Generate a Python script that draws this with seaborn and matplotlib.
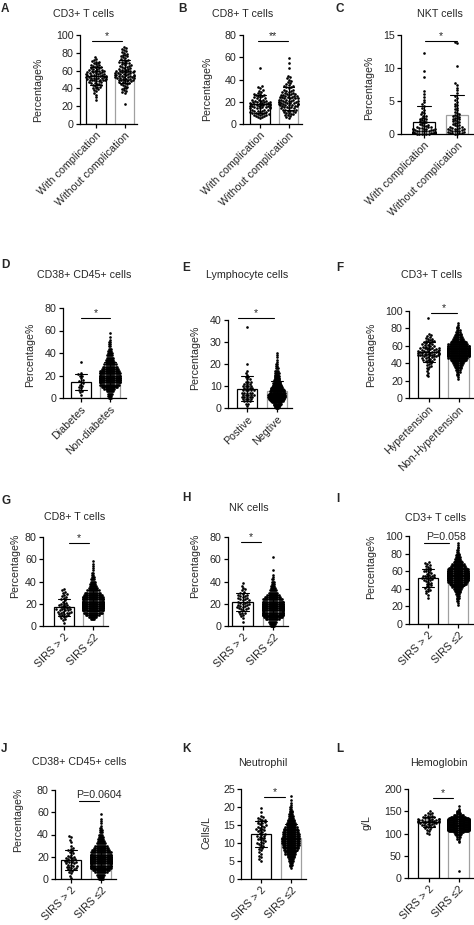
import warnings
warnings.filterwarnings('ignore')
import numpy as np
import pandas as pd
import matplotlib
matplotlib.use('Agg')
import matplotlib.pyplot as plt
from matplotlib.lines import Line2D
import seaborn as sns

sns.set_theme(style='ticks')
plt.rcParams['font.family'] = ['Liberation Sans', 'DejaVu Sans']

# ---------------- data ----------------
cats_comp = ['With complication', 'Without complication']
cats_diab = ['Diabetes', 'Non-diabetes']
cats_pos = ['Postive', 'Negtive']
cats_hyp = ['Hypertension', 'Non-Hypertension']
cats_sirs = ['SIRS > 2', 'SIRS \u22642']

A1 = [75,73,72,71,70,70,69,68,67,66,66,65,65,64,64,63,63,62,62,61,61,60,60,60,59,59,58,58,58,57,57,57,56,56,56,55,55,55,55,54,54,54,53,53,53,53,52,52,52,52,51,51,51,50,50,50,49,49,49,48,48,47,47,46,46,45,45,44,44,43,42,42,41,40,39,38,37,35,33,30,27]
A2 = [87,85,84,83,82,81,80,79,78,77,76,76,75,74,73,72,72,71,70,70,69,68,68,67,66,66,65,65,64,64,63,63,62,62,61,61,60,60,60,59,59,59,58,58,58,57,57,57,56,56,56,55,55,55,55,54,54,54,54,53,53,53,53,52,52,52,51,51,51,50,50,50,49,49,48,48,47,47,46,46,45,45,44,43,42,41,40,39,38,37,36,35,22]

B1 = [50,34,33,32,31,30,29,28,27,27,26,26,25,25,24,24,23,23,22,22,22,21,21,21,20,20,20,20,19,19,19,19,18,18,18,18,17,17,17,17,16,16,16,16,15,15,15,15,14,14,14,14,13,13,13,12,12,12,11,11,11,10,10,10,9,9,9,8,8,8,7,7,6,6,5]
B2 = [59,55,50,43,42,41,40,39,38,37,36,35,34,34,33,33,32,31,31,30,30,29,29,28,28,27,27,27,26,26,26,25,25,25,24,24,24,24,23,23,23,23,22,22,22,22,21,21,21,21,20,20,20,20,19,19,19,19,18,18,18,18,17,17,17,17,16,16,16,15,15,15,14,14,14,13,13,13,12,12,12,11,11,10,10,9,9,8,8,7,6,5]

C1 = [12.2,9.5,8.6,6.5,6.0,5.6,5.2,4.8,4.5,4.2,3.9,3.6,3.4,3.2,3.0,2.8,2.7,2.5,2.4,2.3,2.2,2.1,2.0,1.9,1.8,1.7,1.6,1.5,1.4,1.3,1.2,1.2,1.1,1.0,1.0,0.9,0.9,0.8,0.8,0.7,0.7,0.7,0.6,0.6,0.6,0.5,0.5,0.5,0.4,0.4,0.4,0.3,0.3,0.3,0.3,0.2,0.2,0.2,0.2,0.1,0.1,0.1,0.1,0.1,0.0,0.0,0.0,0.0,0.0,0.0]
C2 = [14.0,13.8,10.3,7.7,7.4,7.0,6.6,6.2,5.8,5.5,5.2,4.9,4.6,4.4,4.2,4.0,3.8,3.6,3.4,3.2,3.0,2.9,2.8,2.7,2.6,2.5,2.4,2.3,2.2,2.1,2.0,1.9,1.8,1.7,1.6,1.5,1.4,1.3,1.2,1.1,1.0,0.9,0.9,0.8,0.8,0.7,0.7,0.6,0.6,0.5,0.5,0.4,0.4,0.3,0.3,0.2,0.2,0.1,0.1,0.0,0.0]

D1 = [32,22,21,20,20,18,16,15,14,13,12,11,10,9,7,6,5,3]
D2_levels = [0,2,4,6,8,10,12,14,16,18,20,22,24,26,28,30,32,34,36,38,40,42,44,46,48,50,52,54,58]
D2_counts = [3,4,5,7,10,14,18,22,24,24,22,20,18,15,13,11,9,8,7,6,5,4,3,2,2,2,1,1,1]

E1 = [37,20,17,16,15,14,14,13,13,12,12,12,11,11,11,10,10,10,10,9,9,9,9,8,8,8,8,8,7,7,7,7,7,6,6,6,6,6,5,5,5,5,5,4,4,4,4,3,3,3,2,2,1]
E2_levels = [0,0.5,1,1.5,2,2.5,3,3.5,4,4.5,5,5.5,6,6.5,7,7.5,8,8.5,9,9.5,10,10.5,11,11.5,12,12.5,13,13.5,14,14.5,15,16,17,18,19,20,21,22,23,24,25]
E2_counts = [3,4,5,6,8,9,11,13,14,15,16,16,16,15,14,14,12,12,10,10,9,8,7,7,6,5,5,4,4,4,4,5,4,3,2,2,1,1,1,1,1]

F1 = [92,73,72,71,70,69,68,68,67,66,66,65,65,64,63,63,62,62,61,61,60,60,59,59,58,58,57,57,57,56,56,56,55,55,55,54,54,54,54,53,53,53,53,52,52,52,52,51,51,51,51,50,50,50,50,49,49,49,48,48,48,47,47,46,46,45,45,44,44,43,43,42,41,40,39,38,37,36,35,33,31,29,27,25]
F2_levels = [22,24,26,28,30,32,34,36,38,40,42,44,46,48,50,52,54,56,58,60,62,64,66,68,70,72,74,76,78,80,82,84,86]
F2_counts = [1,1,2,2,3,4,5,6,8,10,12,15,18,22,26,30,30,28,25,21,18,15,12,10,8,6,5,4,3,2,2,1,1]

G1 = [33,32,31,30,29,28,27,26,25,24,23,22,21,20,20,19,19,18,18,17,17,16,16,15,15,15,14,14,14,13,13,13,12,12,12,11,11,10,10,9,9,8,7,6,5,3]
G2_levels = [6,8,10,12,14,16,18,20,22,24,26,28,30,32,34,36,38,40,42,44,46,48,50,52,54,56,58]
G2_counts = [4,8,12,17,22,26,28,28,26,23,20,17,14,11,9,7,6,5,4,3,2,2,1,1,1,1,1]

H1 = [39,36,34,33,32,31,30,29,28,28,27,27,26,25,25,24,24,23,23,22,22,21,21,20,20,19,19,18,18,17,17,16,16,15,15,14,13,12,12,11,10,9,7,4]
H2_levels = [0,2,4,6,8,10,12,14,16,18,20,22,24,26,28,30,32,34,36,38,40,42,44,46,50,62]
H2_counts = [4,6,8,12,17,22,27,29,29,27,24,21,18,14,11,9,7,5,4,3,3,2,1,1,1,1]

I1 = [70,69,68,67,66,65,64,63,62,61,60,60,59,58,57,56,56,55,55,54,54,53,53,52,52,51,51,50,50,49,48,47,46,45,44,43,42,41,40,39,38,37,35,33,30]
I2_levels = [22,24,26,28,30,32,34,36,38,40,42,44,46,48,50,52,54,56,58,60,62,64,66,68,70,72,74,76,78,80,82,84,86,88,90,92]
I2_counts = [1,1,2,2,3,3,4,5,6,8,10,12,15,18,22,25,27,27,25,22,19,16,13,11,9,7,6,5,4,3,2,2,1,1,1,1]

J1 = [39,38,35,33,30,28,27,26,25,24,23,22,21,20,20,19,19,18,18,17,17,16,16,15,15,15,14,14,13,13,12,12,11,11,10,10,9,9,8,7,6,5,3,1]
J2_levels = [0,2,4,6,8,10,12,14,16,18,20,22,24,26,28,30,32,34,36,38,40,42,44,46,48,50,52,54,58]
J2_counts = [5,6,8,11,15,20,24,27,28,27,25,22,19,16,13,11,9,7,6,5,4,3,3,2,1,1,1,1,1]

K1 = [19.7,18.5,17.5,17.2,17.0,16.8,16.5,16.5,16.2,16.0,15.8,15.5,15.5,15.3,15.0,14.8,14.5,14.5,14.3,14.0,13.8,13.5,13.5,13.3,13.0,12.8,12.5,12.3,12.0,12.0,11.8,11.5,11.3,11.0,11.0,10.8,10.5,10.3,10.0,10.0,9.8,9.5,9.2,9.0,8.7,8.3,8.0,7.5,7.0,6.5,6.0,5.5,5.0]
K2_levels = [3.0,3.5,4.0,4.5,5.0,5.5,6.0,6.5,7.0,7.5,8.0,8.5,9.0,9.5,10.0,10.5,11.0,11.5,12.0,12.5,13.0,13.5,14.0,14.5,15.0,15.5,16.0,16.5,17.0,17.5,18.0,18.5,19.0,19.5,20.0,20.5,21.0,22.0,23.0]
K2_counts = [1,2,3,3,5,5,7,7,10,10,12,13,14,15,16,16,16,16,15,15,14,13,12,11,9,9,7,7,5,5,4,3,3,2,2,1,1,1,1]

L1 = [150,147,145,143,141,140,139,138,137,136,135,134,133,133,132,132,131,131,130,130,129,129,128,128,127,127,126,126,125,125,124,124,123,123,122,121,120,119,118,117,116,115,114,112,110,108,105,102,98]
L2_levels = [15,80,84,88,92,96,100,104,106,108,110,112,114,116,118,120,122,124,126,128,130,132,134,136,138,140,142,144,146,148,150,152,156,162]
L2_counts = [1,1,1,2,3,4,6,9,10,13,16,19,22,24,25,25,24,22,20,17,15,12,10,8,6,5,4,3,2,2,2,1,1,1]

# ---------------- layout (pixels) ----------------
W, H = 474, 925
fig = plt.figure(figsize=(W / 100, H / 100), dpi=100)
fig.patch.set_facecolor('white')

FS = 7.7
DOT = 1.9

panels = [
    dict(L='A', T='CD3+ T cells', Y='Percentage%', cats=cats_comp, g1=A1, g2=A2, ymax=100, ystep=20,
         box=(80, 96, 124.5, 137, 35, 124), tpos=(84, 14), lpos=(1, 8.5), ypos=(38, 90),
         sig=('*', 92, 122, 41)),
    dict(L='B', T='CD8+ T cells', Y='Percentage%', cats=cats_comp, g1=B1, g2=B2, ymax=80, ystep=20,
         box=(243, 260, 288.5, 302, 35, 124), tpos=(243, 14), lpos=(178, 9), ypos=(207, 89),
         sig=('**', 258, 288, 41)),
    dict(L='C', T='NKT cells', Y='Percentage%', cats=cats_comp, g1=C1, g2=C2, ymax=15, ystep=5,
         box=(401, 424, 457, 474, 35, 134), tpos=(440, 14), lpos=(336, 8.5), ypos=(369, 88),
         sig=('*', 425, 457, 41)),
    dict(L='D', T='CD38+ CD45+ cells', Y='Percentage%', cats=cats_diab, g1=D1,
         g2=np.repeat(D2_levels, D2_counts), ymax=80, ystep=20,
         box=(63, 81, 110, 126, 308, 398), tpos=(84, 275), lpos=(1, 265), ypos=(30, 355),
         sig=('*', 81, 110, 318)),
    dict(L='E', T='Lymphocyte cells', Y='Percentage%', cats=cats_pos, g1=E1,
         g2=np.repeat(E2_levels, E2_counts), ymax=40, ystep=10,
         box=(228, 247, 277, 292, 320, 408), tpos=(247, 275), lpos=(182, 268), ypos=(195, 358),
         sig=('*', 238, 274, 318)),
    dict(L='F', T='CD3+ T cells', Y='Percentage%', cats=cats_hyp, g1=F1,
         g2=np.repeat(F2_levels, F2_counts), ymax=100, ystep=20,
         box=(409, 428.5, 458.5, 474, 311, 398), tpos=(432, 275), lpos=(336, 268), ypos=(371, 355),
         sig=('*', 431, 457, 313)),
    dict(L='G', T='CD8+ T cells', Y='Percentage%', cats=cats_sirs, g1=G1,
         g2=np.repeat(G2_levels, G2_counts), ymax=80, ystep=20,
         box=(43, 64, 93, 108, 537, 626), tpos=(75, 517), lpos=(1, 501), ypos=(15, 566),
         sig=('*', 69, 89, 543)),
    dict(L='H', T='NK cells', Y='Percentage%', cats=cats_sirs, g1=H1,
         g2=np.repeat(H2_levels, H2_counts), ymax=80, ystep=20,
         box=(228, 242.5, 273, 288, 537, 626), tpos=(249, 508), lpos=(182, 498), ypos=(195, 566),
         sig=('*', 241, 261, 542)),
    dict(L='I', T='CD3+ T cells', Y='Percentage%', cats=cats_sirs, g1=I1,
         g2=np.repeat(I2_levels, I2_counts), ymax=100, ystep=20,
         box=(409, 428, 458, 474, 536, 624), tpos=(436, 518), lpos=(336, 499), ypos=(371, 567),
         sig=('P=0.058', 424, 449, 543)),
    dict(L='J', T='CD38+ CD45+ cells', Y='Percentage%', cats=cats_sirs, g1=J1,
         g2=np.repeat(J2_levels, J2_counts), ymax=80, ystep=20,
         box=(55, 71, 101, 116, 790, 879), tpos=(79, 762), lpos=(1, 749), ypos=(18, 820),
         sig=('P=0.0604', 79, 99, 801)),
    dict(L='K', T='Neutrophil', Y='Cells/L', cats=cats_sirs, g1=K1,
         g2=np.repeat(K2_levels, K2_counts), ymax=25, ystep=5,
         box=(241, 261, 291, 306, 789, 879), tpos=(263, 763), lpos=(182, 749), ypos=(207, 833),
         sig=('*', 264, 285, 797)),
    dict(L='L', T='Hemoglobin', Y='g/L', cats=cats_sirs, g1=L1,
         g2=np.repeat(L2_levels, L2_counts), ymax=200, ystep=50,
         box=(408, 428.5, 458.5, 474, 789, 878), tpos=(439, 763), lpos=(336, 749), ypos=(367, 823),
         sig=('*', 433, 453, 798)),
]


def fx(x):
    return x / W


def fy(y):
    return 1 - y / H


swarms = []  # (collection, center)

for p in panels:
    left, c0, c1, right, top, bottom = p['box']
    s = c1 - c0
    ax = fig.add_axes([fx(left), fy(bottom), (right - left) / W, (bottom - top) / H])
    cats = p['cats']
    g1 = np.asarray(p['g1'], dtype=float)
    g2 = np.asarray(p['g2'], dtype=float)
    df = pd.DataFrame({'group': [cats[0]] * len(g1) + [cats[1]] * len(g2),
                       'value': np.concatenate([g1, g2])})
    sns.barplot(data=df, x='group', y='value', order=cats, estimator='mean', errorbar='sd',
                width=0.68, color='white', edgecolor='black', linewidth=0.9, capsize=0.4,
                err_kws={'color': 'black', 'linewidth': 0.8}, ax=ax)
    for i, patch in enumerate(ax.patches):
        patch.set_facecolor('white')
        patch.set_edgecolor('black' if i == 0 else '#a0a0a0')
        patch.set_zorder(1)
    # swarm each group; dense groups are packed with a smaller footprint (GraphPad overlaps dots)
    for gi, cat in enumerate(cats):
        sub = df[df['group'] == cat]
        n_before = len(ax.collections)
        pack = DOT if len(sub) < 120 else 0.9
        sns.swarmplot(data=sub, x='group', y='value', order=cats, color='black', size=pack,
                      linewidth=0, ax=ax, warn_thresh=1)
        for c in ax.collections[n_before:]:
            swarms.append((c, gi))
    for c in ax.collections:
        c.set_zorder(3)
        c.set_clip_on(False)
    for ln in ax.lines:
        ln.set_zorder(4)
    ax.set_xlim((left - c0) / s, (right - c0) / s)
    ax.set_ylim(0, p['ymax'])
    ax.set_yticks(np.arange(0, p['ymax'] + 0.001, p['ystep']))
    ax.set_xticks([0, 1])
    ax.set_xticklabels(cats, rotation=45, ha='right', rotation_mode='anchor', fontsize=FS)
    ax.set_xlabel('')
    ax.set_ylabel(p['Y'], fontsize=FS)
    yx, yy = p['ypos']
    ax.yaxis.set_label_coords((yx + 5 - left) / (right - left), (bottom - yy) / (bottom - top))
    ax.spines[['top', 'right']].set_visible(False)
    for sp in ['left', 'bottom']:
        ax.spines[sp].set_linewidth(0.9)
        ax.spines[sp].set_color('black')
    ax.tick_params(axis='both', length=3, width=0.9, color='black', labelsize=FS, pad=1.5)
    ax.patch.set_alpha(0)

    fig.text(fx(p['tpos'][0]), fy(p['tpos'][1]), p['T'], ha='center', va='center', fontsize=FS)
    fig.text(fx(p['lpos'][0]), fy(p['lpos'][1]), p['L'], ha='left', va='center',
             fontsize=8.5, fontweight='bold')
    txt, x0, x1, yl = p['sig']
    fig.add_artist(Line2D([fx(x0), fx(x1)], [fy(yl), fy(yl)], color='black', lw=0.8))
    if txt.startswith('P'):
        fig.text(fx((x0 + x1) / 2 + 10), fy(yl - 1), txt, ha='center', va='bottom', fontsize=FS)
    else:
        fig.text(fx((x0 + x1) / 2), fy(yl - 5), txt, ha='center', va='center', fontsize=FS)

# compute the swarm layouts once, then freeze them and enlarge dots to the displayed size
fig.canvas.draw()
for c, center in swarms:
    if 'draw' in c.__dict__:
        del c.draw
    off = np.asarray(c.get_offsets(), dtype=float).copy()
    off[:, 0] = center + (off[:, 0] - center) * 0.85
    c.set_offsets(off)
    c.set_sizes([DOT ** 2])

fig.savefig('out.png', dpi=100, facecolor='white')
